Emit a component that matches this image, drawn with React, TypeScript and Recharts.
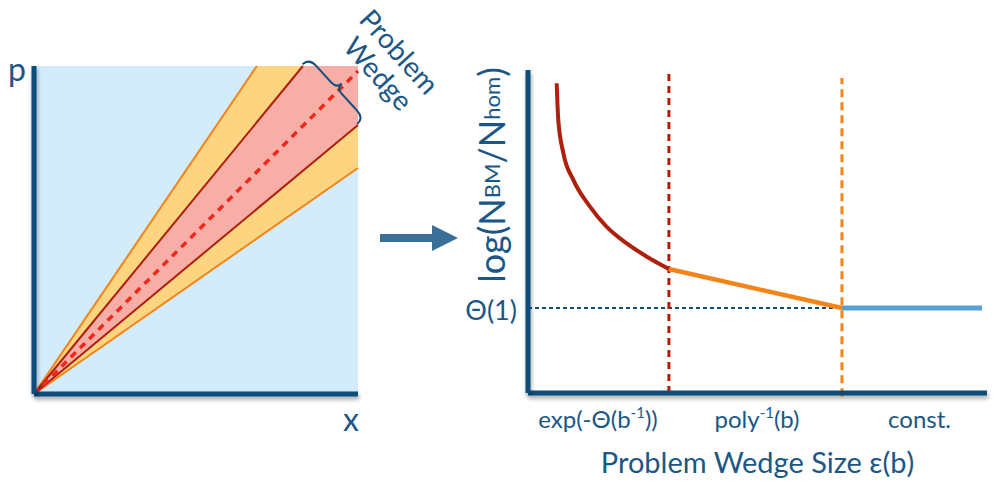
import React from 'react';
import { ComposedChart, Area, Line, XAxis, YAxis, ReferenceLine } from 'recharts';

// left panel: (x, p) plane with the problem wedge
const wedgeX = [0, 0.688, 0.83, 1];
const backgroundBand = [[0, 1], [0, 1], [0, 1], [0, 1]];
const outerBand = [[0, 0], [0.474, 1], [0.572, 1], [0.689, 1]];
const innerBand = [[0, 0], [0.564, 0.829], [0.681, 1], [0.82, 1]];
const outerUpper = [0, 1, null, null];
const innerUpper = [0, null, 1, null];
const centerLine = [0, null, null, 0.985];
const innerLower = [0, null, null, 0.82];
const outerLower = [0, null, null, 0.689];

// right panel: cost vs wedge size
const wedgeSize = [6.25, 6.6, 7.7, 9.9, 13.5, 17.1, 21.5, 25.9, 30.7, 68.4, 98.9];
const expRegime = [95.9, 84.5, 74.3, 65.9, 57.7, 51.5, 46.3, 42.2, 38.4, null, null];
const polyRegime = [null, null, null, null, null, null, null, null, 38.4, 26.3, null];
const constRegime = [null, null, null, null, null, null, null, null, null, 26.3, 26.3];
const thresholds = [30.7, 68.4];
const constLevel = 26.3;
const regimeTicks = [15.25, 49.9, 85.3];
const regimeLabels = [
  { base: 'exp(-Θ(b', sup: '-1', tail: '))' },
  { base: 'poly', sup: '-1', tail: '(b)' },
  { base: 'const.', sup: '', tail: '' },
];

const FONT = 'Lato, "Open Sans", sans-serif';
const TEXT = '#1b5786';
const AXIS = '#0d4d7c';
const SKY = '#d3ecfb';
const AMBER = '#fdd47f';
const SALMON = '#f7aea6';
const ORANGE = '#f3841a';
const DARKRED = '#ae1f0c';
const RED = '#f0281c';
const STEEL = '#56a0d6';

const axisStyle = {
  stroke: AXIS,
  strokeWidth: 5,
  style: { filter: 'drop-shadow(1px 3px 2px rgba(0,0,0,0.35))' },
};

const leftRows = wedgeX.map((x, i) => ({
  x,
  bg: backgroundBand[i],
  outer: outerBand[i],
  inner: innerBand[i],
  outerUpper: outerUpper[i],
  innerUpper: innerUpper[i],
  center: centerLine[i],
  innerLower: innerLower[i],
  outerLower: outerLower[i],
}));

const rightRows = wedgeSize.map((x, i) => ({
  x,
  exp: expRegime[i],
  poly: polyRegime[i],
  constant: constRegime[i],
}));

const RegimeTick = (props: any) => {
  const { x, y, index } = props;
  const lab = regimeLabels[index] ?? regimeLabels[0];
  return (
    <text x={x} y={y + 35} textAnchor="middle" fill={TEXT} fontFamily={FONT} fontSize={24}>
      <tspan>{lab.base}</tspan>
      {lab.sup && <tspan fontSize={15} dy={-10}>{lab.sup}</tspan>}
      {lab.tail && <tspan dy={10}>{lab.tail}</tspan>}
    </text>
  );
};

const LevelTick = (props: any) => {
  const { x, y } = props;
  return (
    <text x={x} y={y} dy={12} textAnchor="end" fill={TEXT} fontFamily={FONT} fontSize={27}>
      Θ(1)
    </text>
  );
};

const WedgePanel = () => (
  <ComposedChart
    width={370}
    height={485}
    data={leftRows}
    margin={{ top: 66, right: 12, bottom: 90, left: 33 }}
  >
    <XAxis
      dataKey="x"
      type="number"
      domain={[0, 1]}
      height={1}
      tick={false}
      tickLine={false}
      axisLine={axisStyle}
    />
    <YAxis
      type="number"
      domain={[0, 1]}
      width={1}
      tick={false}
      tickLine={false}
      axisLine={axisStyle}
    />
    <Area dataKey="bg" type="linear" stroke="none" fill={SKY} fillOpacity={1} isAnimationActive={false} />
    <Area dataKey="outer" type="linear" stroke="none" fill={AMBER} fillOpacity={1} isAnimationActive={false} />
    <Area dataKey="inner" type="linear" stroke="none" fill={SALMON} fillOpacity={1} isAnimationActive={false} />
    <Line dataKey="outerUpper" type="linear" stroke={ORANGE} strokeWidth={2} dot={false} connectNulls isAnimationActive={false} />
    <Line dataKey="outerLower" type="linear" stroke={ORANGE} strokeWidth={2} dot={false} connectNulls isAnimationActive={false} />
    <Line dataKey="innerUpper" type="linear" stroke={DARKRED} strokeWidth={2} dot={false} connectNulls isAnimationActive={false} />
    <Line dataKey="innerLower" type="linear" stroke={DARKRED} strokeWidth={2} dot={false} connectNulls isAnimationActive={false} />
    <Line dataKey="center" type="linear" stroke={RED} strokeWidth={3.5} strokeDasharray="7 6" dot={false} connectNulls isAnimationActive={false} />
  </ComposedChart>
);

const CostPanel = () => (
  <ComposedChart
    width={596}
    height={485}
    data={rightRows}
    margin={{ top: 70, right: 9, bottom: 0, left: 68 }}
  >
    <XAxis
      dataKey="x"
      type="number"
      domain={[0, 100]}
      ticks={regimeTicks}
      height={92}
      tickLine={false}
      tickSize={0}
      tickMargin={0}
      tick={<RegimeTick />}
      axisLine={axisStyle}
      label={{ value: 'Problem Wedge Size ε(b)', position: 'insideBottom', offset: 12, fill: TEXT, fontSize: 29, fontFamily: FONT }}
    />
    <YAxis
      type="number"
      domain={[0, 100]}
      ticks={[constLevel]}
      width={60}
      tickLine={false}
      tickSize={0}
      tickMargin={11}
      tick={<LevelTick />}
      axisLine={axisStyle}
    />
    <ReferenceLine
      segment={[{ x: 0, y: constLevel }, { x: thresholds[1], y: constLevel }]}
      stroke={AXIS}
      strokeWidth={2}
      strokeDasharray="4 3"
    />
    <ReferenceLine
      segment={[{ x: thresholds[0], y: 0 }, { x: thresholds[0], y: 98.8 }]}
      stroke={DARKRED}
      strokeWidth={3}
      strokeDasharray="7 5"
    />
    <ReferenceLine
      segment={[{ x: thresholds[1], y: -1 }, { x: thresholds[1], y: 97.5 }]}
      ifOverflow="visible"
      stroke={ORANGE}
      strokeWidth={3}
      strokeDasharray="8 5"
    />
    <Line dataKey="exp" type="monotone" stroke={DARKRED} strokeWidth={4} dot={false} connectNulls isAnimationActive={false} />
    <Line dataKey="poly" type="linear" stroke={ORANGE} strokeWidth={4.5} dot={false} connectNulls isAnimationActive={false} />
    <Line dataKey="constant" type="linear" stroke={STEEL} strokeWidth={5} dot={false} connectNulls isAnimationActive={false} />
  </ComposedChart>
);

const Annotations = () => (
  <svg
    width={996}
    height={485}
    style={{ position: 'absolute', left: 0, top: 0, pointerEvents: 'none' }}
  >
    {/* axis names of the left panel */}
    <g fill={TEXT} fontFamily={FONT} fontSize={32}>
      <text x={17} y={68} textAnchor="middle" dominantBaseline="central">p</text>
      <text x={351} y={418} textAnchor="middle" dominantBaseline="central">x</text>
    </g>
    {/* brace over the wedge mouth */}
    <g transform="translate(304,63) rotate(47.5)">
      <path
        d="M0,2 C0,-5 4,-7 10,-7 L33,-7 C38,-7 40.5,-9 40.5,-14 C40.5,-9 43,-7 48,-7 L71,-7 C77,-7 81,-5 81,2"
        fill="none"
        stroke={AXIS}
        strokeWidth={2}
      />
    </g>
    <g fill={TEXT} fontFamily={FONT} fontSize={28}>
      <text x={400} y={51} textAnchor="middle" dominantBaseline="central" transform="rotate(48 400 51)">
        Problem
      </text>
      <text x={379} y={73} textAnchor="middle" dominantBaseline="central" transform="rotate(48 379 73)">
        Wedge
      </text>
    </g>
    {/* arrow between panels */}
    <polygon points="380,234 432,234 432,225 458,238 432,251 432,242 380,242" fill="#3a6f98" />
    {/* y-axis title of the right panel */}
    <text
      x={491}
      y={175}
      textAnchor="middle"
      dominantBaseline="central"
      transform="rotate(-90 491 175)"
      fill={TEXT}
      fontFamily={FONT}
      fontSize={36}
    >
      <tspan>log(N</tspan>
      <tspan fontSize={22}>BM</tspan>
      <tspan>/N</tspan>
      <tspan fontSize={22}>hom</tspan>
      <tspan>)</tspan>
    </text>
  </svg>
);

export default function App() {
  return (
    <div style={{ position: 'absolute', left: 0, top: 0, width: 996, height: 485, background: '#fff' }}>
      <div style={{ position: 'absolute', left: 0, top: 0 }}>
        <WedgePanel />
      </div>
      <div style={{ position: 'absolute', left: 400, top: 0 }}>
        <CostPanel />
      </div>
      <Annotations />
    </div>
  );
}
